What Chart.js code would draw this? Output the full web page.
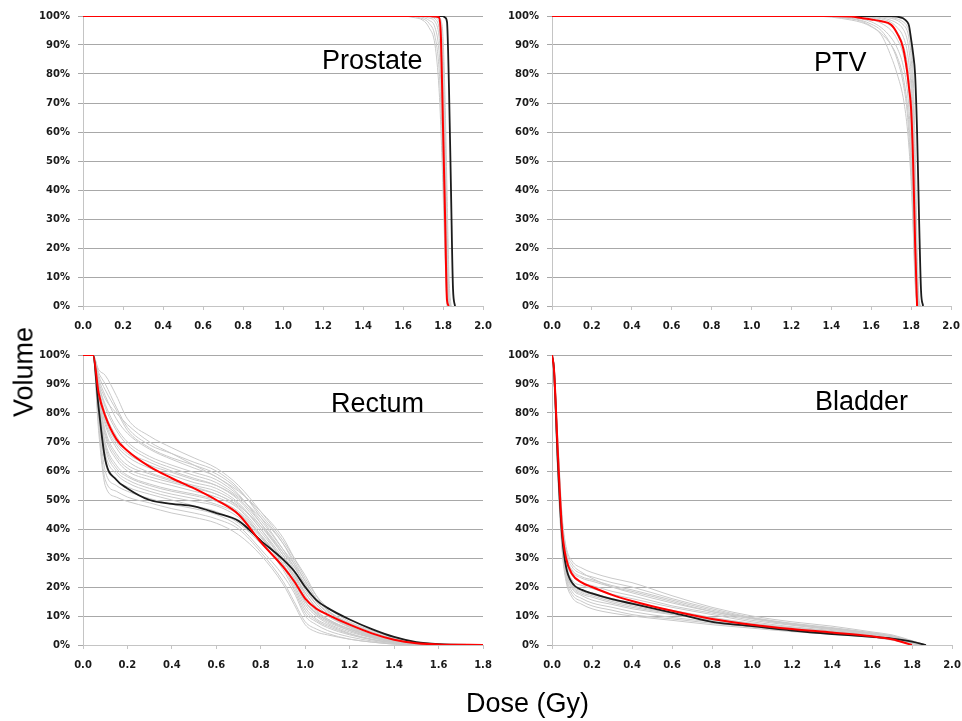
<!DOCTYPE html>
<html>
<head>
<meta charset="utf-8">
<script src="https://cdn.jsdelivr.net/npm/chart.js"></script>
<style>
  body { margin: 0; background: #fff; width: 962px; height: 721px; position: relative; overflow: hidden;
         font-family: "Liberation Sans", Arial, sans-serif; }
  canvas { position: absolute; }
  .lbl { position: absolute; font-size: 27px; line-height: 27px; color: #000; white-space: nowrap; }
</style>
</head>
<body>
<canvas id="prostate" width="500" height="340" style="left:0;top:0"></canvas>
<canvas id="ptv" width="492" height="340" style="left:470px;top:0"></canvas>
<canvas id="rectum" width="500" height="381" style="left:0;top:340px"></canvas>
<canvas id="bladder" width="492" height="381" style="left:470px;top:340px"></canvas>

<div class="lbl" style="left:322px;top:47px">Prostate</div>
<div class="lbl" style="left:814px;top:49px">PTV</div>
<div class="lbl" style="left:331px;top:390px">Rectum</div>
<div class="lbl" style="left:815px;top:388px">Bladder</div>
<div class="lbl" style="left:466px;top:690px">Dose (Gy)</div>
<div class="lbl" style="left:24px;top:372px;transform:translate(-50%,-50%) rotate(-90deg)">Volume</div>

<script>
// dose-volume histograms, dose in Gy, volume in % (null = curve already ended)

// Prostate
const prostateDose = [0, 1.6, 1.65, 1.7, 1.73, 1.76, 1.78, 1.79, 1.8, 1.81, 1.82, 1.83, 1.84, 1.85, 1.86];
const prostateRed = [100, 100, 100, 100, 100, 99.8, 99.5, 92, 62, 32, 2, 0, null, null, null];
const prostateBlack = [100, 100, 100, 100, 100, 100, 100, 100, 100, 99.5, 98, 75, 40, 6, 0];
const prostateGray = [
  [100, 100, 99.5, 98.5, 96, 90, 75, 60, 40, 18, 0, null, null, null, null],
  [100, 100, 99.8, 99, 97.5, 93, 82, 68, 48, 22, 1, 0, null, null, null],
  [100, 100, 100, 99.5, 98.5, 96, 88, 76, 55, 28, 3, 0, null, null, null],
  [100, 100, 100, 99.8, 99.3, 98, 93, 84, 63, 35, 6, 0, null, null, null],
  [100, 100, 100, 100, 99.7, 99, 96, 90, 72, 44, 12, 0, null, null, null],
  [100, 100, 100, 100, 100, 99.5, 98, 94, 80, 52, 20, 1, 0, null, null],
  [100, 100, 100, 100, 100, 99.8, 99, 97, 88, 62, 30, 4, 0, null, null],
  [100, 100, 100, 100, 100, 100, 99.5, 98.5, 93, 72, 40, 10, 0, null, null]
];

// PTV
const ptvDose = [0, 1.3, 1.4, 1.5, 1.55, 1.6, 1.65, 1.7, 1.73, 1.76, 1.78, 1.79, 1.8, 1.81, 1.82, 1.83, 1.84, 1.85, 1.86];
const ptvRed = [100, 100, 100, 99.8, 99.3, 98.8, 98.2, 97, 94, 89, 81, 75, 68, 50, 22, 0, null, null, null];
const ptvBlack = [100, 100, 100, 100, 100, 100, 100, 100, 99.8, 99.2, 98, 96.5, 92, 87, 80, 60, 30, 5, 0];
const ptvGray = [
  [100, 100, 99.6, 98.6, 97.8, 96.3, 93.5, 86, 80, 72, 62, 54, 43, 27, 8, 0, null, null, null],
  [100, 100, 99.8, 99.2, 98.5, 97.2, 95, 90, 85, 77, 67, 58, 47, 29, 10, 0, null, null, null],
  [100, 100, 99.8, 99, 98.2, 96.5, 94, 90, 86, 79, 70, 62, 50, 32, 12, 1, 0, null, null],
  [100, 100, 100, 99.5, 99, 98, 96, 92.5, 89, 83, 75, 67, 55, 36, 15, 2, 0, null, null],
  [100, 100, 100, 99.8, 99.5, 98.8, 97.5, 95, 92, 87, 80, 73, 62, 42, 18, 3, 0, null, null],
  [100, 100, 100, 100, 99.8, 99.3, 98.5, 96.5, 94.5, 90, 84, 78, 68, 48, 22, 4, 0, null, null],
  [100, 100, 100, 100, 100, 99.6, 99, 97.8, 96, 93, 88, 83, 75, 56, 28, 6, 0, null, null],
  [100, 100, 100, 100, 100, 99.8, 99.4, 98.5, 97.5, 95.5, 92, 88, 80, 64, 35, 9, 0, null, null],
  [100, 100, 100, 100, 100, 100, 99.7, 99.2, 98.5, 97, 95, 92, 86, 72, 45, 14, 1, 0, null],
  [100, 100, 100, 100, 100, 100, 99.8, 99.5, 99, 98, 96.5, 94.5, 90, 80, 55, 20, 2, 0, null]
];

// Rectum
const rectumDose = [0, 0.045, 0.07, 0.1, 0.15, 0.2, 0.3, 0.4, 0.5, 0.6, 0.7, 0.8, 0.9, 0.95, 1.0, 1.05, 1.1, 1.2, 1.3, 1.4, 1.5, 1.6, 1.8];
const rectumRed = [100, 100, 87, 79, 71, 67, 61.5, 57.5, 54, 50, 45, 35.5, 27, 22, 16, 12.5, 10.5, 7, 4, 1.8, 0.6, 0.2, 0];
const rectumBlack = [100, 100, 82, 64, 57, 54, 50, 48.7, 47.8, 45.5, 42.8, 36, 29.5, 25.5, 20, 15.5, 12.8, 8.8, 5.5, 2.8, 1, 0.3, 0];
const rectumGray = [
  [100, 100, 95, 93, 86, 78, 72, 68, 64.5, 61, 55, 46, 36, 30, 24, 17, 12, 7, 4, 2, 0.7, 0.2, 0],
  [100, 100, 94, 90, 82, 75, 69, 66, 63, 60, 54, 44, 33, 27, 21, 15, 11, 6.5, 3.5, 1.5, 0.5, 0.1, 0],
  [100, 100, 92, 86, 78, 73, 67.5, 64, 61, 58, 52, 42, 31, 25, 18, 13, 10, 6, 3, 1.3, 0.4, 0.1, 0],
  [100, 100, 90, 83, 75, 70, 65, 62, 59.5, 57, 51.5, 43, 33, 28, 22, 16, 12, 7.5, 4.5, 2.2, 0.8, 0.2, 0],
  [100, 100, 89, 80, 72, 67, 63, 60, 57.5, 55, 50, 41, 31, 25, 17, 12, 9, 5.5, 3, 1.2, 0.4, 0.1, 0],
  [100, 100, 88, 77, 69, 65, 61, 58.5, 56, 54, 49, 40, 29, 23, 15, 11, 8.5, 5.5, 3, 1.3, 0.4, 0.1, 0],
  [100, 100, 86, 74, 66, 62, 59, 56.5, 54.5, 52, 48, 41, 32, 27, 21, 15, 11.5, 7.5, 4.5, 2, 0.7, 0.2, 0],
  [100, 100, 85, 72, 64, 60, 57, 55, 53, 51, 47, 38, 28, 22, 14, 10, 7.5, 4.5, 2.5, 1, 0.3, 0.1, 0],
  [100, 100, 84, 70, 62, 58.5, 55.5, 53.5, 52, 50, 46, 38, 28, 21, 13, 9, 7, 4, 2, 0.8, 0.2, 0, 0],
  [100, 100, 83, 68, 60, 57, 54, 52, 50.5, 48.5, 45, 37, 29, 24, 18, 13, 10.5, 7, 4, 1.8, 0.6, 0.1, 0],
  [100, 100, 82, 66, 59, 56, 53, 51, 49.5, 48, 44, 36, 26, 19, 11, 8, 6, 3.5, 1.8, 0.7, 0.2, 0, 0],
  [100, 100, 80, 63, 57, 54.5, 52, 50, 48, 46, 42, 35, 27, 22, 15, 11, 8.5, 5, 2.5, 1, 0.3, 0, 0],
  [100, 100, 78, 60, 55, 53, 50.5, 48.5, 47, 45, 41, 33, 24, 18, 10, 7, 5, 2.8, 1.4, 0.5, 0.1, 0, 0],
  [100, 100, 76, 57, 53, 51, 49, 47, 45.5, 43.5, 40, 32, 22, 15, 8, 5.5, 4, 2, 1, 0.3, 0.1, 0, 0],
  [100, 100, 74, 55, 51, 49.5, 47.5, 45.5, 44, 42, 38, 31, 21, 14, 7, 4.5, 3.5, 2, 1, 0.3, 0.1, 0, 0],
  [100, 100, 91, 85, 80, 76, 70, 66, 62, 58, 53, 46, 37, 30, 23, 17, 13, 8, 5, 2.5, 1, 0.3, 0],
  [100, 100, 87, 76, 68, 63.5, 59.5, 57, 55, 53, 48.5, 40, 30, 24, 16, 11.5, 9, 5.5, 3, 1.3, 0.4, 0.1, 0],
  [100, 100, 85, 73, 65, 61, 58, 56, 54, 52, 47.5, 39, 29, 23, 15, 10.5, 8, 5, 2.7, 1.1, 0.3, 0.1, 0],
  [100, 100, 88, 78, 70, 66, 62, 59.5, 57, 55, 50.5, 42, 32, 26, 19, 14, 10.5, 6.5, 3.5, 1.5, 0.5, 0.1, 0],
  [100, 100, 83, 69, 61, 58, 55, 53, 51.5, 49.5, 45.5, 37.5, 27, 20, 12, 8.5, 6.5, 3.8, 1.9, 0.8, 0.2, 0, 0],
  [100, 100, 90, 82, 74, 69, 64, 61, 58.5, 56, 51, 44, 35, 29, 22, 16, 12, 7.2, 4.2, 2, 0.7, 0.2, 0],
  [100, 100, 93, 88, 81, 74, 68, 64.5, 62, 59, 53.5, 45, 35, 28, 20, 14, 10.5, 6.2, 3.3, 1.4, 0.5, 0.1, 0]
];

// Bladder
const bladderDose = [0, 0.01, 0.03, 0.05, 0.07, 0.1, 0.15, 0.2, 0.3, 0.4, 0.6, 0.8, 1.0, 1.2, 1.4, 1.6, 1.7, 1.8, 1.87];
const bladderRed = [100, 95, 65, 40, 30, 24.5, 21.5, 20, 17.3, 15.2, 11.8, 9, 7, 5.5, 4.3, 3, 2, 0, null];
const bladderBlack = [100, 95, 62, 38, 27, 21.5, 19, 17.8, 15.8, 14.3, 11.2, 8, 6.5, 5, 3.8, 2.8, 2.2, 1.2, 0];
const bladderGray = [
  [100, 96, 70, 45, 34, 29, 26.5, 25, 23, 21.5, 17, 13, 10, 8, 6.5, 4.5, 3.5, 1.5, 0],
  [100, 95, 68, 43, 32, 27, 24.5, 23.5, 21.5, 20, 16, 12.5, 9.5, 7.5, 6, 4.2, 3.2, 1.3, 0],
  [100, 95, 66, 42, 31, 25.5, 23, 22, 20, 18.5, 15, 11.5, 9, 7, 5.5, 4, 3, 1.2, 0],
  [100, 94, 64, 40, 29, 24, 21.5, 20.5, 18.5, 17, 13.5, 11, 8.5, 6.8, 5.3, 3.8, 2.8, 1, 0],
  [100, 94, 63, 39, 28, 22.5, 20.5, 19.5, 17.5, 16, 13, 10.5, 8, 6.3, 5, 3.6, 2.6, 0.9, 0],
  [100, 93, 62, 38, 27, 21.5, 19, 18, 16, 14.5, 12, 9.5, 7.5, 6, 4.8, 3.4, 2.4, 0.8, 0],
  [100, 93, 61, 37, 26, 20.5, 18, 17, 15, 13.5, 11, 9, 7, 5.6, 4.5, 3.2, 2.2, 0.7, 0],
  [100, 92, 60, 36, 25, 19.5, 17, 15.5, 14, 12.5, 10.5, 8.5, 6.8, 5.4, 4.3, 3, 2, 0.6, 0],
  [100, 92, 59, 35, 24, 18.5, 16, 14.5, 13, 11.5, 9.5, 8, 6.5, 5.2, 4.2, 2.9, 1.9, 0.5, 0],
  [100, 91, 58, 34, 23, 17.5, 15, 13.5, 12, 10.5, 9, 7.5, 6.2, 5, 4, 2.8, 1.8, 0.5, 0],
  [100, 91, 57, 33, 22, 16.5, 14, 12.5, 11, 10, 8.5, 7, 5.8, 4.6, 3.7, 2.6, 1.7, 0.4, 0],
  [100, 96, 69, 44, 33, 28, 25, 23, 20, 18, 14.5, 11.5, 9.2, 7.2, 5.8, 4.1, 3.1, 1.2, 0],
  [100, 95, 67, 42, 31, 26, 23.5, 22.5, 20.5, 19, 15.5, 12, 9.3, 7.3, 5.7, 4, 3, 1.2, 0],
  [100, 93, 61, 37, 26.5, 21, 18.5, 17.5, 15.5, 14, 11.5, 9.2, 7.2, 5.8, 4.6, 3.3, 2.3, 0.7, 0],
  [100, 92, 60, 36, 25.5, 20, 17.5, 16.5, 14.5, 13, 10.8, 8.7, 6.9, 5.5, 4.4, 3.1, 2.1, 0.6, 0]
];

Chart.defaults.font.family = "'Liberation Sans', Arial, sans-serif";
const tickFont = { family: "'DejaVu Sans', Verdana, sans-serif", size: 10, weight: "bold" };
const gridColor = "#a8a8a8";
const axisColor = "#c4c4c4";

function pts(dose, vol) {
  return dose.map((d, i) => ({ x: d, y: vol[i] }));
}

function line(dose, vol, color, width) {
  return {
    data: pts(dose, vol),
    borderColor: color,
    borderWidth: width,
    pointRadius: 0,
    cubicInterpolationMode: "monotone",
    fill: false
  };
}

// area = [left, top, right, bottom] of the plot inside the canvas
function drawDvh(id, dose, red, black, grays, xMax, area) {
  const el = document.getElementById(id);
  const datasets = [line(dose, red, "#ff0000", 2), line(dose, black, "#1c1c1c", 1.8)];
  grays.forEach(g => datasets.push(line(dose, g, "#c9c9c9", 1)));

  new Chart(el, {
    type: "line",
    data: { datasets: datasets },
    options: {
      responsive: false,
      animation: false,
      layout: { padding: { left: 0, top: area[1], right: el.width - area[2], bottom: 0 } },
      plugins: { legend: { display: false }, tooltip: { enabled: false } },
      scales: {
        x: {
          type: "linear",
          min: 0,
          max: xMax,
          afterFit: s => {
            s.height = el.height - area[3];
            s.paddingLeft = 0;
            s.paddingRight = 0;
          },
          grid: { drawOnChartArea: false, drawTicks: true, tickLength: 4, color: axisColor },
          border: { color: axisColor },
          ticks: {
            stepSize: 0.2,
            autoSkip: false,
            maxRotation: 0,
            padding: 10,
            color: "#1a1a1a",
            font: tickFont,
            callback: v => v.toFixed(1)
          }
        },
        y: {
          min: 0,
          max: 100,
          afterFit: s => {
            s.width = area[0];
            s.paddingTop = 0;
            s.paddingBottom = 0;
          },
          grid: { color: gridColor, tickLength: 5 },
          border: { color: axisColor },
          ticks: {
            stepSize: 10,
            padding: 8,
            color: "#1a1a1a",
            font: tickFont,
            callback: v => v + "%"
          }
        }
      }
    }
  });
}

drawDvh("prostate", prostateDose, prostateRed, prostateBlack, prostateGray, 2.0, [83, 16, 483, 306]);
drawDvh("ptv", ptvDose, ptvRed, ptvBlack, ptvGray, 2.0, [82, 16, 481, 306]);
drawDvh("rectum", rectumDose, rectumRed, rectumBlack, rectumGray, 1.8, [83, 15, 483, 305]);
drawDvh("bladder", bladderDose, bladderRed, bladderBlack, bladderGray, 2.0, [82, 15, 482, 305]);
</script>
</body>
</html>
